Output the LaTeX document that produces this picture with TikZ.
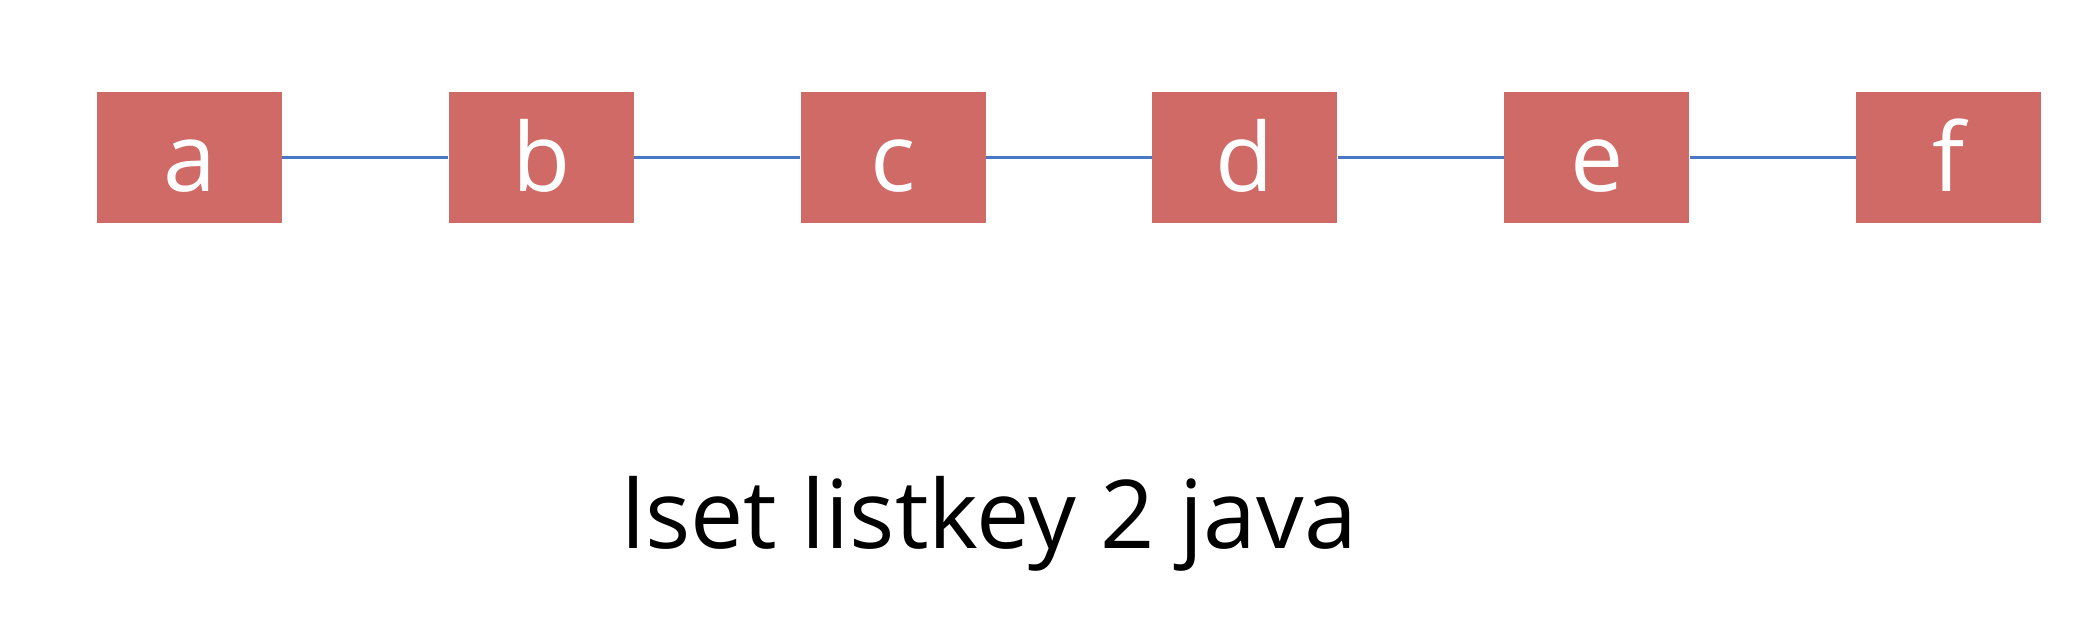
\documentclass[tikz,border=0pt]{standalone}
\usepackage{fontspec}
\setmainfont{Open Sans}
\usetikzlibrary{positioning}

\definecolor{boxred}{RGB}{208,106,102}
\definecolor{linkblue}{RGB}{70,120,196}

\begin{document}
\begin{tikzpicture}[
  x=1pt, y=1pt,
  font=\fontsize{47.5}{52}\selectfont,
  elem/.style={fill=boxred, text=white, minimum width=92.5pt,
    minimum height=65.5pt, text height=50pt, text depth=15.5pt, inner sep=0pt},
  link/.style={draw=linkblue, line width=1.2pt}
]
  \useasboundingbox (0,0) rectangle (1043,316);

  \node[elem] (a) at (94.75,237.25) {a};
  \node[elem, right=83pt of a] (b) {b};
  \node[elem, right=83pt of b] (c) {c};
  \node[elem, right=83pt of c] (d) {d};
  \node[elem, right=83pt of d] (e) {e};
  \node[elem, right=83pt of e] (f) {f};

  \draw[link] (a) -- (b);
  \draw[link] (b) -- (c);
  \draw[link] (c) -- (d);
  \draw[link] (d) -- (e);
  \draw[link] (e) -- (f);

  \node[anchor=base, inner sep=0pt] (cmd) at (494.5,42) {lset listkey 2 java};
\end{tikzpicture}
\end{document}
